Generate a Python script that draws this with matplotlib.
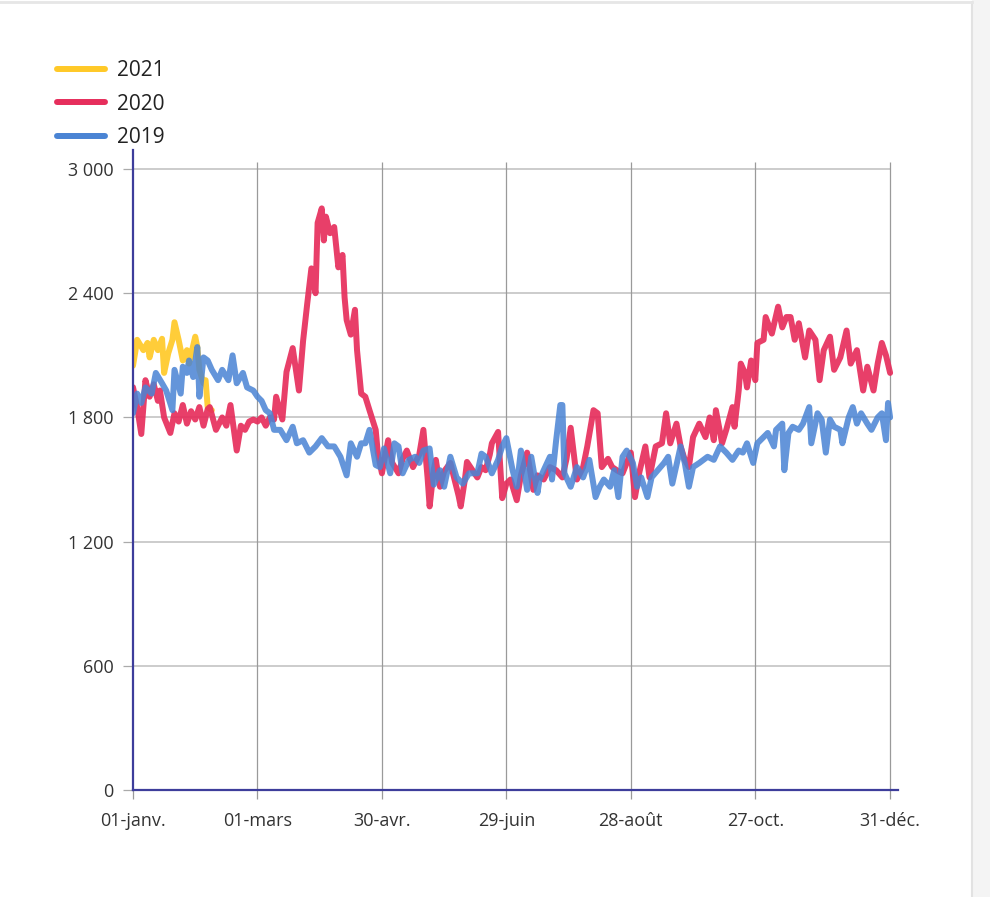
import matplotlib
matplotlib.use('Agg')
import matplotlib.pyplot as plt
from matplotlib.lines import Line2D
from matplotlib.patches import Rectangle

plt.rcParams['font.family'] = ['Open Sans', 'DejaVu Sans']

# ---- data (day of year, 0 = 01-janv.) ----
days_2021 = [0, 1, 2, 5, 7, 8, 10, 12, 14, 15, 17, 19, 20, 22, 24, 26, 27, 30, 31, 32, 34, 35, 36, 38]
deaths_2021 = [2050, 2110, 2175, 2125, 2160, 2090, 2175, 2125, 2180, 2015, 2110, 2175, 2260, 2175, 2075,
               2125, 2060, 2190, 2140, 2030, 1965, 1980, 1850, 1835]

days_2020 = [0, 2, 4, 6, 8, 10, 12, 13, 15, 18,
             20, 22, 24, 26, 28, 30, 32, 34, 36, 37,
             40, 43, 45, 47, 50, 52, 54, 56, 58, 60,
             62, 64, 66, 68, 69, 72, 74, 77, 80, 82,
             84, 86, 88, 89, 91, 92, 93, 95, 97, 99,
             101, 102, 103, 105, 107, 108, 110, 112, 114, 117,
             118, 120, 123, 125, 128, 130, 132, 135, 138, 140,
             142, 143, 145, 146, 148, 150, 153, 155, 157, 158,
             160, 161, 164, 166, 168, 170, 172, 173, 176, 178,
             180, 182, 185, 187, 190, 193, 195, 198, 201, 204,
             207, 209, 211, 214, 217, 219, 222, 224, 226, 229,
             231, 234, 236, 238, 240, 242, 244, 247, 249, 252,
             255, 257, 259, 262, 264, 266, 268, 270, 273, 276,
             278, 280, 281, 284, 286, 289, 290, 292, 293, 295,
             296, 298, 300, 301, 304, 305, 308, 311, 313, 315,
             317, 319, 321, 324, 326, 329, 331, 333, 336, 338,
             341, 344, 346, 349, 352, 354, 357, 359, 361, 363,
             365]
deaths_2020 = [1946, 1850, 1720, 1980, 1900, 1960, 1880, 1930, 1800, 1725,
               1820, 1780, 1860, 1770, 1830, 1790, 1850, 1760, 1840, 1850,
               1740, 1800, 1760, 1860, 1640, 1760, 1740, 1780, 1790, 1780,
               1800, 1760, 1800, 1790, 1900, 1790, 2020, 2135, 1930, 2170,
               2350, 2520, 2400, 2740, 2810, 2655, 2770, 2690, 2720, 2525,
               2585, 2380, 2270, 2200, 2320, 2125, 1915, 1900, 1835, 1740,
               1630, 1530, 1690, 1580, 1530, 1600, 1640, 1560, 1620, 1740,
               1510, 1370, 1550, 1595, 1465, 1540, 1580, 1500, 1420, 1370,
               1500, 1585, 1540, 1510, 1560, 1545, 1620, 1675, 1730, 1410,
               1480, 1500, 1400, 1520, 1630, 1450, 1520, 1500, 1560, 1545,
               1510, 1600, 1750, 1500, 1560, 1660, 1835, 1820, 1560, 1600,
               1560, 1540, 1530, 1580, 1630, 1415, 1530, 1660, 1510, 1660,
               1675, 1820, 1675, 1770, 1660, 1595, 1560, 1705, 1770, 1705,
               1800, 1690, 1835, 1675, 1740, 1850, 1755, 1930, 2060, 2015,
               1945, 2075, 1980, 2160, 2175, 2285, 2205, 2335, 2235, 2285,
               2285, 2175, 2255, 2090, 2220, 2175, 1980, 2125, 2190, 2030,
               2090, 2220, 2060, 2125, 1930, 2045, 1930, 2060, 2160, 2100,
               2015]

days_2019 = [0, 2, 4, 6, 9, 11, 14, 16, 19, 20,
             23, 24, 26, 27, 29, 31, 32, 34, 36, 38,
             41, 43, 46, 48, 50, 53, 55, 58, 60, 62,
             64, 66, 68, 71, 74, 77, 79, 82, 85, 88,
             91, 94, 97, 100, 103, 105, 108, 110, 112, 114,
             117, 119, 121, 124, 126, 128, 130, 133, 136, 138,
             140, 143, 145, 148, 150, 153, 156, 159, 162, 166,
             168, 170, 173, 176, 178, 180, 183, 185, 187, 190,
             192, 195, 196, 198, 201, 202, 204, 206, 207, 208,
             211, 214, 217, 220, 223, 225, 227, 230, 232, 234,
             236, 238, 241, 243, 245, 248, 250, 253, 256, 258,
             260, 264, 266, 268, 270, 273, 277, 280, 283, 286,
             289, 292, 294, 296, 299, 301, 304, 306, 309, 310,
             313, 314, 316, 318, 321, 323, 326, 327, 330, 332,
             334, 336, 338, 341, 342, 345, 347, 349, 351, 354,
             356, 359, 361, 363, 364, 365]
deaths_2019 = [1820, 1915, 1870, 1945, 1915, 2015, 1965, 1930, 1835, 2030,
               1915, 2045, 2015, 2075, 1995, 2140, 1900, 2090, 2075, 2030,
               1980, 2030, 1980, 2100, 1965, 2015, 1945, 1930, 1900, 1880,
               1835, 1820, 1740, 1740, 1690, 1755, 1675, 1690, 1630, 1660,
               1700, 1660, 1660, 1610, 1520, 1675, 1610, 1675, 1675, 1740,
               1570, 1560, 1650, 1530, 1675, 1660, 1530, 1595, 1610, 1580,
               1640, 1650, 1475, 1545, 1465, 1610, 1510, 1480, 1530, 1530,
               1625, 1610, 1530, 1595, 1660, 1700, 1545, 1465, 1640, 1450,
               1610, 1435, 1500, 1545, 1610, 1500, 1690, 1860, 1860, 1530,
               1465, 1560, 1510, 1595, 1415, 1465, 1500, 1465, 1545, 1415,
               1610, 1640, 1580, 1465, 1510, 1415, 1510, 1545, 1580, 1610,
               1480, 1660, 1580, 1465, 1560, 1580, 1610, 1595, 1660, 1630,
               1595, 1640, 1630, 1675, 1580, 1675, 1705, 1725, 1660, 1740,
               1770, 1545, 1725, 1755, 1740, 1770, 1850, 1675, 1820, 1790,
               1630, 1790, 1755, 1740, 1675, 1800, 1850, 1770, 1820, 1770,
               1740, 1800, 1820, 1690, 1870, 1800]

x_tick_days = [0, 60, 120, 180, 240, 300, 365]
x_tick_labels = ['01-janv.', '01-mars', '30-avr.', '29-juin', '28-août', '27-oct.', '31-déc.']
y_ticks = [0, 600, 1200, 1800, 2400, 3000]
y_tick_labels = ['0', '600', '1 200', '1 800', '2 400', '3 000']

# ---- figure ----
W, H = 990, 897
fig = plt.figure(figsize=(W / 100, H / 100), dpi=100)
fig.patch.set_facecolor('white')

# page card decoration
fig.patches.append(Rectangle((972 / W, 0), 18 / W, 1, transform=fig.transFigure,
                             facecolor='#f4f4f4', edgecolor='none', zorder=0))
fig.lines.append(Line2D([971.5 / W, 971.5 / W], [0, 1 - 2 / H], transform=fig.transFigure,
                        color='#e2e2e2', lw=1.5))
fig.lines.append(Line2D([0, 971.5 / W], [1 - 2.5 / H, 1 - 2.5 / H], transform=fig.transFigure,
                        color='#e6e6e6', lw=2))

ax = fig.add_axes([133 / W, 107 / H, 765 / W, 640 / H])
ax.set_xlim(0, 368.8)
ax.set_ylim(0, 3092)

# grid
ax.hlines(y_ticks[1:], 0, 365, color='#c8c8c8', lw=1.3, zorder=1)
ax.vlines(x_tick_days[1:], 0, 3035, color='#9a9a9a', lw=0.9, zorder=1)

lw = 4.3
l21, = ax.plot(days_2021, deaths_2021, color='#FFC928', lw=lw, alpha=0.92,
               solid_joinstyle='round', solid_capstyle='round', zorder=3, label='2021')
l20, = ax.plot(days_2020, deaths_2020, color='#E62E5C', lw=lw, alpha=0.92,
               solid_joinstyle='round', solid_capstyle='round', zorder=4, label='2020')
l19, = ax.plot(days_2019, deaths_2019, color='#4A84D4', lw=lw, alpha=0.86,
               solid_joinstyle='round', solid_capstyle='round', zorder=5, label='2019')

ax.set_xticks(x_tick_days)
ax.set_xticklabels(x_tick_labels)
ax.set_yticks(y_ticks)
ax.set_yticklabels(y_tick_labels)
ax.tick_params(axis='x', length=6.5, width=0.9, color='#9a9a9a', pad=9,
               labelsize=13, labelcolor='#333333')
ax.tick_params(axis='y', length=7, width=0.9, color='#aaaaaa', pad=7,
               labelsize=13, labelcolor='#333333')

for s in ['top', 'right']:
    ax.spines[s].set_visible(False)
for s in ['left', 'bottom']:
    ax.spines[s].set_color('#3d3d9b')
    ax.spines[s].set_linewidth(1.6)
    ax.spines[s].set_zorder(6)

leg = ax.legend([l21, l20, l19], ['2021', '2020', '2019'], loc='upper left',
                bbox_to_anchor=(57 / W, 1 - 60 / H), bbox_transform=fig.transFigure,
                frameon=False, fontsize=15, handlelength=2.3, handletextpad=0.6,
                labelspacing=0.6, borderpad=0, borderaxespad=0, labelcolor='#222222')
for h in leg.legend_handles:
    h.set_alpha(1.0)

fig.savefig('out.png', dpi=100)
